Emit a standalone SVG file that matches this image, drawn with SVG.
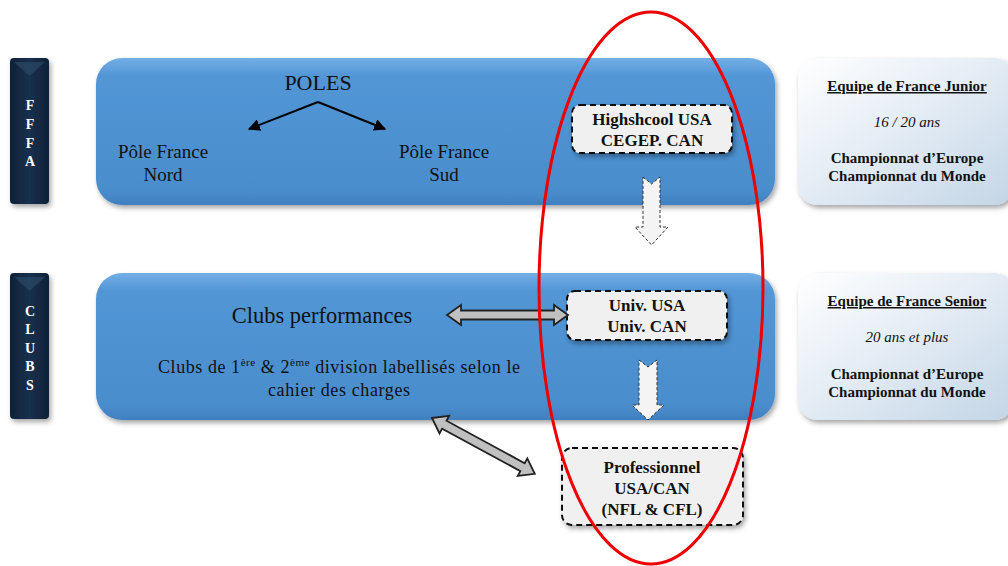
<svg xmlns="http://www.w3.org/2000/svg" width="1008" height="566" viewBox="0 0 1008 566">
<style>
.serif{font-family:"Liberation Serif","Times New Roman","DejaVu Serif",serif;}
.lbl{font-family:"Liberation Serif","Times New Roman",serif;font-size:19px;fill:#111;text-anchor:middle;}
.tab{font-family:"Liberation Serif","Times New Roman",serif;font-size:14px;font-weight:bold;fill:#fff;text-anchor:middle;}
.bx{font-family:"Liberation Serif","Times New Roman",serif;font-size:17px;font-weight:bold;fill:#111;text-anchor:middle;}
.rt{font-family:"Liberation Serif","Times New Roman",serif;font-size:15px;fill:#111;text-anchor:middle;}
.dash{fill:#f0f0f0;stroke:#111;stroke-width:2;stroke-dasharray:6 4;}
.darr{fill:#f4f4f4;stroke:#333;stroke-width:1;stroke-dasharray:3 2;}
.garr{fill:#c0c0c0;stroke:#222;stroke-width:1.8;}
</style>
<defs>
<linearGradient id="blue" x1="0" y1="0" x2="0" y2="1">
<stop offset="0" stop-color="#74afe6"/>
<stop offset="0.12" stop-color="#5296d6"/>
<stop offset="0.9" stop-color="#4a8dcd"/>
<stop offset="1" stop-color="#3f7fbf"/>
</linearGradient>
<linearGradient id="navy" x1="0" y1="0" x2="1" y2="0">
<stop offset="0" stop-color="#0f2238"/>
<stop offset="0.5" stop-color="#17304d"/>
<stop offset="1" stop-color="#0f2238"/>
</linearGradient>
<linearGradient id="pale" x1="0" y1="0" x2="1" y2="1">
<stop offset="0" stop-color="#ffffff"/>
<stop offset="0.5" stop-color="#e2ebf4"/>
<stop offset="1" stop-color="#c3d5e6"/>
</linearGradient>
<filter id="sh" x="-10%" y="-10%" width="125%" height="130%">
<feDropShadow dx="2" dy="3" stdDeviation="2.5" flood-color="#000" flood-opacity="0.35"/>
</filter>
<marker id="ah" viewBox="0 0 10 10" refX="9" refY="5" markerWidth="6" markerHeight="6" orient="auto">
<path d="M0,0 L10,5 L0,10 z" fill="#000"/>
</marker>
</defs>
<rect width="1008" height="566" fill="#fff"/>

<g id="tab-fffa">
<rect x="10" y="58" width="39" height="146" rx="4" fill="url(#navy)" filter="url(#sh)"/>
<path d="M14,62 L45,62 L29.5,76 z" fill="#2a4866" opacity="0.7"/>
<text class="tab" x="30" y="110">F</text>
<text class="tab" x="30" y="129">F</text>
<text class="tab" x="30" y="148">F</text>
<text class="tab" x="30" y="166">A</text>
</g>
<g id="tab-clubs">
<rect x="10" y="273" width="39" height="146" rx="4" fill="url(#navy)" filter="url(#sh)"/>
<path d="M14,277 L45,277 L29.5,291 z" fill="#2a4866" opacity="0.7"/>
<text class="tab" x="30" y="316">C</text>
<text class="tab" x="30" y="334">L</text>
<text class="tab" x="30" y="353">U</text>
<text class="tab" x="30" y="371">B</text>
<text class="tab" x="30" y="390">S</text>
</g>

<g id="poles-box">
<rect x="96" y="58" width="679" height="147" rx="26" fill="url(#blue)" filter="url(#sh)"/>
<text class="serif" x="318" y="90" font-size="22" text-anchor="middle" fill="#111">POLES</text>
<text class="lbl" x="163" y="158">Pôle France</text>
<text class="lbl" x="163" y="181">Nord</text>
<text class="lbl" x="444" y="158">Pôle France</text>
<text class="lbl" x="444" y="181">Sud</text>
</g>

<g id="clubs-box">
<rect x="96" y="273" width="679" height="147" rx="26" fill="url(#blue)" filter="url(#sh)"/>
<text class="serif" x="322" y="323" font-size="22.5" text-anchor="middle" fill="#111">Clubs performances</text>
<text class="serif" x="158" y="373" font-size="18" fill="#111" textLength="362" lengthAdjust="spacing">Clubs de 1<tspan font-size="11" dy="-7">ère</tspan><tspan dy="7"> &amp; 2</tspan><tspan font-size="11" dy="-7">ème</tspan><tspan dy="7"> division  labellisés  selon le</tspan></text>
<text class="serif" x="268" y="396" font-size="18" fill="#111" textLength="142" lengthAdjust="spacing">cahier  des charges</text>
</g>

<g id="junior-box">
<rect x="798" y="58" width="216" height="147" rx="20" fill="url(#pale)" filter="url(#sh)"/>
<text class="rt" x="907" y="91" font-weight="bold" text-decoration="underline">Equipe de France Junior</text>
<text class="rt" x="907" y="127" font-style="italic">16 / 20 ans</text>
<text class="rt" x="907" y="163" font-weight="bold">Championnat d’Europe</text>
<text class="rt" x="907" y="181" font-weight="bold">Championnat  du Monde</text>
</g>
<g id="senior-box">
<rect x="798" y="273" width="216" height="147" rx="20" fill="url(#pale)" filter="url(#sh)"/>
<text class="rt" x="907" y="306" font-weight="bold" text-decoration="underline">Equipe de France Senior</text>
<text class="rt" x="907" y="342" font-style="italic">20 ans et plus</text>
<text class="rt" x="907" y="379" font-weight="bold">Championnat d’Europe</text>
<text class="rt" x="907" y="397" font-weight="bold">Championnat du Monde</text>
</g>

<g id="highschool-box">
<rect class="dash" x="572" y="105" width="160" height="48" rx="8" filter="url(#sh)"/>
<text class="bx" x="652" y="125">Highshcool USA</text>
<text class="bx" x="652" y="146">CEGEP. CAN</text>
</g>
<g id="univ-box">
<rect class="dash" x="567" y="291" width="160" height="49" rx="8" filter="url(#sh)"/>
<text class="bx" x="647" y="311">Univ. USA</text>
<text class="bx" x="647" y="332">Univ. CAN</text>
</g>
<g id="pro-box">
<rect class="dash" x="562" y="448" width="181" height="77" rx="10" filter="url(#sh)"/>
<text class="bx" x="652" y="473">Professionnel</text>
<text class="bx" x="652" y="494">USA/CAN</text>
<text class="bx" x="652" y="515">(NFL &amp; CFL)</text>
</g>

<g id="connectors">
<line x1="318" y1="102" x2="249" y2="129" stroke="#000" stroke-width="2" marker-end="url(#ah)"/>
<line x1="318" y1="102" x2="385" y2="129" stroke="#000" stroke-width="2" marker-end="url(#ah)"/>
<path class="darr" d="M643,177 L651.5,184 L660,177 L660,227 L668,227 L651.5,245 L635,227 L643,227 z"/>
<path class="darr" d="M639,360 L648,367 L657,360 L657,405 L664,405 L648,420 L632,405 L639,405 z"/>
<path class="garr" d="M447,315 L461,305 L461,310.5 L554,310.5 L554,305 L568,315 L554,325 L554,319.5 L461,319.5 L461,325 z"/>
<path class="garr" transform="translate(432,418) rotate(28.5)" d="M0,0 L14,-10 L14,-4.5 L103,-4.5 L103,-10 L117,0 L103,10 L103,4.5 L14,4.5 L14,10 z"/>
</g>

<ellipse id="highlight" cx="651" cy="288" rx="112" ry="276" fill="none" stroke="#ee0000" stroke-width="3"/>
</svg>
